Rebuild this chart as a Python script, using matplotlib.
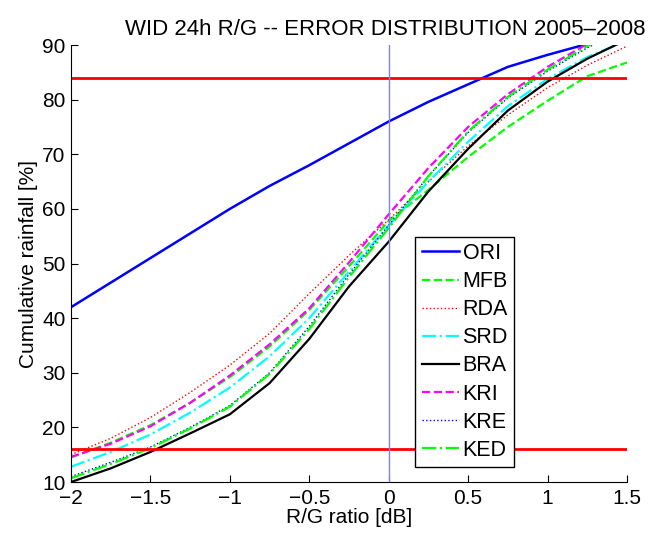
"""WID 24h R/G error distribution chart."""

import matplotlib

matplotlib.use("Agg")

import matplotlib.pyplot as plt

plt.rcParams["font.family"] = ["Liberation Sans", "DejaVu Sans"]

# R/G ratio grid [dB]
ratio = [-2.0, -1.75, -1.5, -1.25, -1.0, -0.75, -0.5, -0.25,
         0.0, 0.25, 0.5, 0.75, 1.0, 1.25, 1.5]

# cumulative rainfall [%] per method
ori = [42.0, 46.5, 51.0, 55.5, 60.0, 64.2, 68.0, 72.0,
       76.0, 79.6, 82.8, 86.0, 88.2, 90.2, 91.5]
mfb = [14.5, 17.2, 20.4, 24.5, 29.2, 34.8, 41.5, 49.5,
       57.8, 63.5, 69.5, 75.0, 79.8, 84.3, 86.8]
rda = [15.0, 18.0, 21.8, 26.4, 31.4, 37.2, 44.5, 51.5,
       58.0, 65.0, 71.5, 77.2, 82.2, 86.3, 89.8]
srd = [12.8, 15.5, 18.7, 22.7, 27.3, 33.0, 40.0, 48.5,
       57.0, 65.0, 72.3, 78.8, 83.8, 87.8, 90.8]
bra = [10.0, 12.5, 15.5, 18.9, 22.4, 28.1, 36.2, 45.8,
       54.0, 63.2, 71.0, 78.0, 83.3, 87.5, 91.0]
kri = [14.6, 17.0, 20.2, 24.5, 29.5, 35.2, 41.8, 50.2,
       59.0, 67.5, 75.0, 81.0, 86.0, 90.2, 93.5]
kre = [11.0, 13.6, 16.4, 20.0, 24.0, 30.0, 38.5, 48.0,
       57.0, 66.0, 74.0, 80.3, 85.2, 89.5, 93.0]
ked = [10.7, 13.3, 16.2, 19.8, 23.8, 29.8, 38.0, 47.5,
       56.5, 66.0, 74.2, 80.5, 85.5, 89.8, 93.0]

series = [
    ("ORI", ori, "#0000ff", "-", 1.8),
    ("MFB", mfb, "#00ff00", "--", 1.6),
    ("RDA", rda, "#ff0000", ":", 1.0),
    ("SRD", srd, "#00ffff", "-.", 1.6),
    ("BRA", bra, "#000000", "-", 1.6),
    ("KRI", kri, "#ff00ff", "--", 1.6),
    ("KRE", kre, "#0000ff", ":", 1.0),
    ("KED", ked, "#00ff00", "-.", 1.6),
]

fig = plt.figure(figsize=(6.53, 5.36), dpi=100)
ax = fig.add_axes([0.1087, 0.1007, 0.8515, 0.8153])

for name, values, color, style, lw in series:
    ax.plot(ratio, values, color=color, linestyle=style, linewidth=lw, label=name)

ax.axhline(16, color="#ff0000", linewidth=2)
ax.axhline(84, color="#ff0000", linewidth=2)
ax.axvline(0, color="#7f7fff", linewidth=1)

ax.set_xlim(-2, 1.5)
ax.set_ylim(10, 90)
ax.set_xticks([-2, -1.5, -1, -0.5, 0, 0.5, 1, 1.5])
ax.set_xticklabels(["\u22122", "\u22121.5", "\u22121", "\u22120.5", "0", "0.5", "1", "1.5"])
ax.set_yticks(range(10, 91, 10))
ax.spines["top"].set_visible(False)
ax.spines["right"].set_visible(False)
ax.tick_params(direction="in", length=5, labelsize=15)
ax.tick_params(axis="x", pad=5)
ax.tick_params(axis="y", pad=4)

ax.set_xlabel("R/G ratio [dB]", fontsize=15, labelpad=0)
ax.set_ylabel("Cumulative rainfall [%]", fontsize=15, labelpad=3)
ax.set_title("WID 24h R/G -- ERROR DISTRIBUTION 2005\u20132008", fontsize=16, pad=7)
ax.title.set_x(0.566)

leg = ax.legend(loc="lower left", bbox_to_anchor=(0.619, 0.034), fontsize=15.5,
                frameon=True, fancybox=False, framealpha=1, edgecolor="black",
                handlelength=1.75, handletextpad=0.15, labelspacing=0.33,
                borderpad=0.3, borderaxespad=0)
leg.get_frame().set_linewidth(1.0)

fig.savefig("out.png", dpi=100)
plt.close(fig)
